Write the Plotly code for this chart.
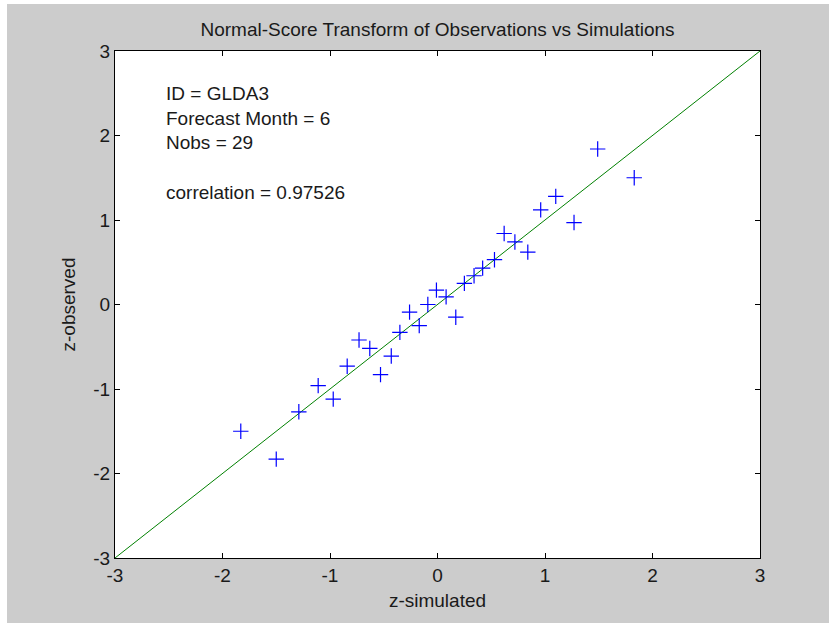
import plotly.graph_objects as go

# Normal scores
z_simulated = [-1.83, -1.50, -1.29, -1.11, -0.97, -0.84, -0.73, -0.63, -0.53, -0.43,
               -0.35, -0.26, -0.17, -0.09, -0.01, 0.08, 0.17, 0.25, 0.34, 0.42,
               0.53, 0.62, 0.72, 0.84, 0.96, 1.10, 1.27, 1.49, 1.83]
z_observed = [-1.50, -1.83, -1.27, -0.96, -1.12, -0.73, -0.42, -0.52, -0.83, -0.61,
              -0.33, -0.09, -0.25, 0.00, 0.17, 0.09, -0.15, 0.25, 0.34, 0.43,
              0.53, 0.84, 0.74, 0.62, 1.12, 1.28, 0.97, 1.84, 1.50]

one_to_one = [-3, 3]
tick_vals = [-3, -2, -1, 0, 1, 2, 3]
tick_text = ["-3", "-2", "-1", "0", "1", "2", "3"]

info_lines = ["ID = GLDA3", "Forecast Month = 6", "Nobs = 29", "", "correlation = 0.97526"]

FONT = "Liberation Sans, Arial, sans-serif"
TXT = "#1a1a1a"

fig = go.Figure()
fig.add_trace(go.Scatter(x=one_to_one, y=one_to_one, mode="lines",
                         line=dict(color="#008000", width=1), showlegend=False,
                         hoverinfo="skip"))
fig.add_trace(go.Scatter(x=z_simulated, y=z_observed, mode="markers",
                         marker=dict(symbol="cross-thin", size=11, color="#0000ff",
                                     line=dict(color="#0000ff", width=1.2)),
                         showlegend=False))

axis_common = dict(range=[-3, 3], tickvals=tick_vals, ticktext=tick_text,
                    showline=True, linecolor="black", linewidth=1, mirror="ticks",
                    ticks="inside", ticklen=5, tickcolor="black", tickwidth=1,
                    showgrid=False, zeroline=False,
                    tickfont=dict(family=FONT, size=19, color=TXT))

fig.update_layout(
    width=829, height=623,
    margin=dict(l=115, r=69, t=51, b=65, autoexpand=False),
    paper_bgcolor="#cccccc", plot_bgcolor="white",
    title=dict(text="Normal-Score Transform of Observations vs Simulations",
               x=0.5, xref="paper", xanchor="center", y=1 - 29 / 623, yanchor="middle",
               font=dict(family=FONT, size=19, color=TXT)),
    xaxis=dict(**axis_common,
               title=dict(text="z-simulated", standoff=8,
                          font=dict(family=FONT, size=19, color=TXT))),
    yaxis=dict(**axis_common,
               title=dict(text="z-observed", standoff=12,
                          font=dict(family=FONT, size=19, color=TXT))),
    annotations=[dict(text="<br>".join(info_lines), xref="x", yref="y",
                      x=-2.54, y=2.64, xanchor="left", yanchor="top", align="left",
                      showarrow=False, font=dict(family=FONT, size=19, color=TXT))],
    shapes=[
        dict(type="rect", xref="paper", yref="paper", x0=-0.2, x1=(7 - 115) / 645,
             y0=-0.2, y1=1.2, fillcolor="white", line=dict(width=0), layer="above"),
        dict(type="rect", xref="paper", yref="paper", x0=-0.2, x1=1.2,
             y0=(558 - 4) / 507, y1=1.2, fillcolor="white", line=dict(width=0), layer="above"),
    ],
)

fig.write_html("out.html", config={"displayModeBar": False},
               post_script="document.body.style.margin='0';")
